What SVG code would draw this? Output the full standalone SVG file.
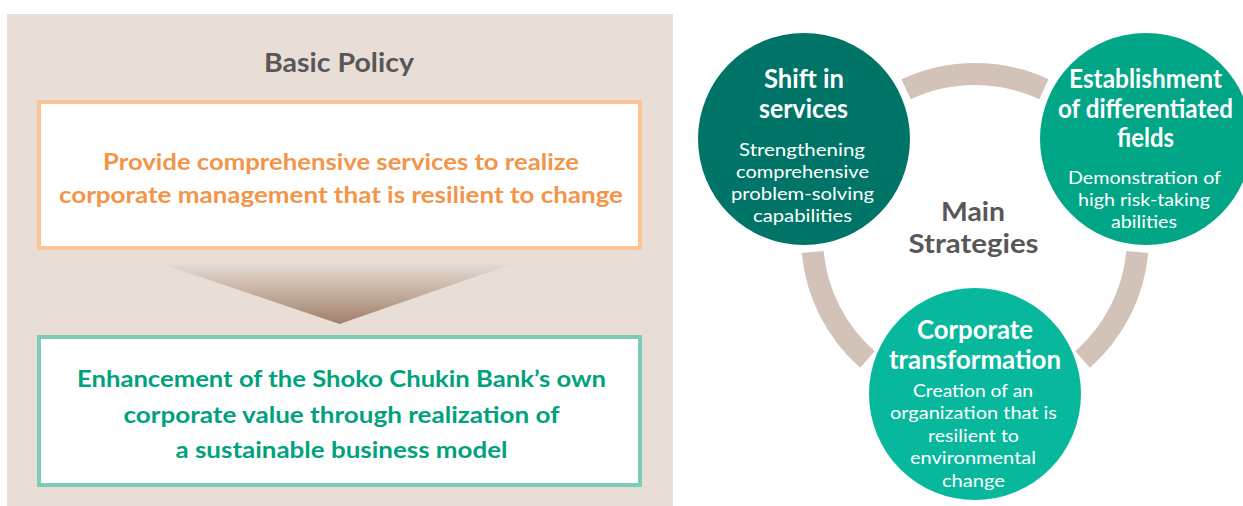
<svg xmlns="http://www.w3.org/2000/svg" width="1243" height="506" viewBox="0 0 1243 506">
  <defs>
    <linearGradient id="arrowGrad" x1="0" y1="0" x2="0" y2="1">
      <stop offset="0" stop-color="#e8ded5"/>
      <stop offset="1" stop-color="#a07f69"/>
    </linearGradient>
    <style>
      text { font-family: Lato, "Open Sans", "Liberation Sans", sans-serif; text-anchor: middle; }
      .title { font-weight: bold; fill: #595757; font-size: 26px; }
      .orange { font-weight: bold; fill: #f39549; font-size: 23px; }
      .green { font-weight: bold; fill: #00a27d; font-size: 23px; }
      .ctitle { font-weight: bold; fill: #ffffff; font-size: 26px; }
      .csub { fill: #ffffff; font-size: 17.5px; }
      .ring { fill: none; stroke: #d3c2b8; stroke-width: 22; }
    </style>
  </defs>

  <rect x="0" y="0" width="1243" height="506" fill="#ffffff"/>

  <g id="basic-policy-panel">
    <rect x="7" y="14" width="666" height="492" fill="#e8ded5"/>
    <text class="title" x="339" y="72" textLength="150" lengthAdjust="spacingAndGlyphs">Basic Policy</text>
  </g>

  <g id="policy-box">
    <rect x="39" y="102" width="601" height="146" fill="#ffffff" stroke="#fbc496" stroke-width="4"/>
    <text class="orange" x="341" y="170" textLength="476" lengthAdjust="spacingAndGlyphs">Provide comprehensive services to realize</text>
    <text class="orange" x="341" y="203" textLength="564" lengthAdjust="spacingAndGlyphs">corporate management that is resilient to change</text>
  </g>

  <g id="connectors">
    <polygon points="156,262 518,262 339.5,324" fill="url(#arrowGrad)"/>
    <path class="ring" d="M906.1,89.3 A163,163 0 0 1 1043.9,89.3"/>
    <path class="ring" d="M1137.3,252.1 A163,163 0 0 1 1082.6,359.5"/>
    <path class="ring" d="M867.4,359.5 A163,163 0 0 1 812.7,252.1"/>
  </g>

  <g id="goal-box">
    <rect x="39" y="337" width="601" height="148" fill="#ffffff" stroke="#7dcbb9" stroke-width="4"/>
    <text class="green" x="341.5" y="387" textLength="529" lengthAdjust="spacingAndGlyphs">Enhancement of the Shoko Chukin Bank’s own</text>
    <text class="green" x="341.5" y="423" textLength="436" lengthAdjust="spacingAndGlyphs">corporate value through realization of</text>
    <text class="green" x="341.5" y="458" textLength="332" lengthAdjust="spacingAndGlyphs">a sustainable business model</text>
  </g>

  <g id="main-strategies">
    <text class="title" x="973" y="221" textLength="64" lengthAdjust="spacingAndGlyphs">Main</text>
    <text class="title" x="973.5" y="253" textLength="130" lengthAdjust="spacingAndGlyphs">Strategies</text>
  </g>

  <g id="shift-in-services">
    <circle cx="804" cy="139" r="106" fill="#007567"/>
    <text class="ctitle" x="804" y="88" textLength="80" lengthAdjust="spacingAndGlyphs">Shift in</text>
    <text class="ctitle" x="803.5" y="118" textLength="89" lengthAdjust="spacingAndGlyphs">services</text>
    <text class="csub" x="802" y="156" textLength="126" lengthAdjust="spacingAndGlyphs">Strengthening</text>
    <text class="csub" x="802.5" y="178" textLength="133" lengthAdjust="spacingAndGlyphs">comprehensive</text>
    <text class="csub" x="802.5" y="200" textLength="143" lengthAdjust="spacingAndGlyphs">problem-solving</text>
    <text class="csub" x="802.5" y="222" textLength="99" lengthAdjust="spacingAndGlyphs">capabilities</text>
  </g>

  <g id="differentiated-fields">
    <circle cx="1146" cy="139" r="106" fill="#00a686"/>
    <text class="ctitle" x="1145.5" y="88" textLength="153" lengthAdjust="spacingAndGlyphs">Establishment</text>
    <text class="ctitle" x="1145.5" y="118" textLength="175" lengthAdjust="spacingAndGlyphs">of differentiated</text>
    <text class="ctitle" x="1145.5" y="147" textLength="57" lengthAdjust="spacingAndGlyphs">fields</text>
    <text class="csub" x="1144.5" y="184" textLength="153" lengthAdjust="spacingAndGlyphs">Demonstration of</text>
    <text class="csub" x="1144" y="206" textLength="132" lengthAdjust="spacingAndGlyphs">high risk-taking</text>
    <text class="csub" x="1144" y="228" textLength="66" lengthAdjust="spacingAndGlyphs">abilities</text>
  </g>

  <g id="corporate-transformation">
    <circle cx="975" cy="394" r="106" fill="#08b89d"/>
    <text class="ctitle" x="975" y="339" textLength="116" lengthAdjust="spacingAndGlyphs">Corporate</text>
    <text class="ctitle" x="975" y="369" textLength="172" lengthAdjust="spacingAndGlyphs">transformation</text>
    <text class="csub" x="973" y="397" textLength="120" lengthAdjust="spacingAndGlyphs">Creation of an</text>
    <text class="csub" x="973.5" y="419" textLength="167" lengthAdjust="spacingAndGlyphs">organization that is</text>
    <text class="csub" x="973.5" y="442" textLength="91" lengthAdjust="spacingAndGlyphs">resilient to</text>
    <text class="csub" x="973" y="464" textLength="126" lengthAdjust="spacingAndGlyphs">environmental</text>
    <text class="csub" x="973.5" y="487" textLength="63" lengthAdjust="spacingAndGlyphs">change</text>
  </g>
</svg>
